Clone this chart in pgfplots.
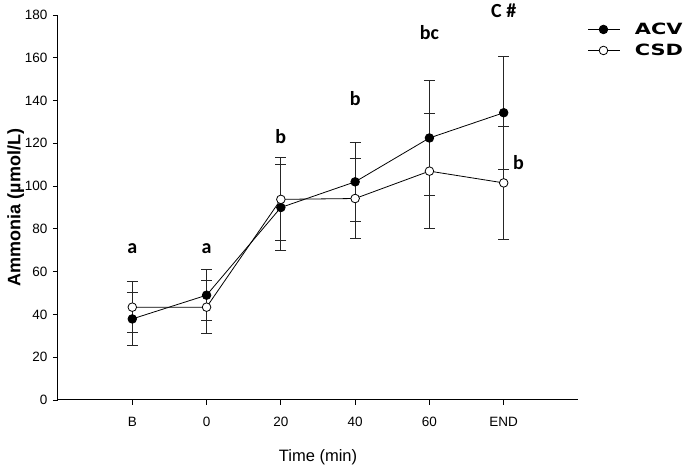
\documentclass[border=0pt]{standalone}
\usepackage{pgfplots}
\pgfplotsset{compat=1.18}
\usepackage{graphicx}
\usepackage{fontspec}
\setmainfont{Liberation Sans}
\newfontfamily\annfont{Carlito}
\newfontfamily\legfont{DejaVu Sans}
\begin{document}
\begin{tikzpicture}
\path[use as bounding box] (0pt,0pt) rectangle (689pt,470pt);
\begin{axis}[
  at={(58pt,70pt)}, anchor=south west,
  scale only axis, width=520pt, height=385pt,
  xmin=-1, xmax=6, ymin=0, ymax=180,
  axis x line*=bottom, axis y line*=left,
  axis line style={line width=1pt, -},
  xtick={0,1,2,3,4,5}, xticklabels={B,0,20,40,60,END},
  ytick={0,20,...,180},
  tick align=outside, major tick length=5pt,
  tick style={line width=0.8pt, black},
  tick label style={font=\fontsize{13.5}{15}\selectfont},
  xticklabel style={yshift=-9pt},
  yticklabel style={xshift=-2pt},
  /pgf/number format/assume math mode=true,
  xlabel={Time (min)}, ylabel={\bfseries Ammonia (µmol/L)},
  xlabel style={font=\fontsize{16.5}{18}\selectfont, yshift=-16pt},
  ylabel style={font=\fontsize{18}{20}\selectfont, yshift=-6pt},
  legend style={at={(1.019,0.985)}, anchor=north west, draw=none, fill=none,
    font=\legfont\bfseries\fontsize{15.5}{17}\selectfont, row sep=4pt,
    inner sep=0pt, nodes={inner xsep=2pt}},
  legend image code/.code={
    \draw[#1, mark=none] (0pt,0pt) -- (32pt,0pt);
    \draw[#1, only marks] plot coordinates {(15pt,0pt)};
  },
  legend cell align=left,
  clip=false,
]
\addplot[black, line width=0.8pt, mark=*, mark size=4.3pt, mark options={fill=black, solid},
  error bars/.cd, y dir=both, y explicit,
  error bar style={line width=0.9pt, black!85},
  error mark options={rotate=90, mark size=5.5pt, line width=0.9pt, black!85}]
 coordinates {
 (0,37.9) +- (0,12.2)
 (1,49.0) +- (0,12.0)
 (2,90.0) +- (0,20.0)
 (3,102.0) +- (0,18.6)
 (4,122.5) +- (0,27.0)
 (5,134.3) +- (0,26.4)
 };
\addlegendentry{\hspace{12pt}\scalebox{1.35}[1]{ACV}}
\addplot[black, line width=0.8pt, mark=*, mark size=4.3pt, mark options={fill=white, solid},
  error bars/.cd, y dir=both, y explicit,
  error bar style={line width=0.9pt, black!85},
  error mark options={rotate=90, mark size=5.5pt, line width=0.9pt, black!85}]
 coordinates {
 (0,43.4) +- (0,12.0)
 (1,43.4) +- (0,12.5)
 (2,93.8) +- (0,19.4)
 (3,94.2) +- (0,18.6)
 (4,107.0) +- (0,27.0)
 (5,101.5) +- (0,26.3)
 };
\addlegendentry{\hspace{12pt}\scalebox{1.35}[1]{CSD}}
\begin{scope}[every node/.style={font=\annfont\bfseries\fontsize{20}{22}\selectfont, inner sep=0pt}]
\node at (axis cs:0,71) {a};
\node at (axis cs:1,71) {a};
\node at (axis cs:2,123) {b};
\node at (axis cs:3,141) {b};
\node at (axis cs:4,172) {bc};
\node at (axis cs:5,182) {C \#};
\node at (axis cs:5.2,111) {b};
\end{scope}
\end{axis}
\end{tikzpicture}
\end{document}
